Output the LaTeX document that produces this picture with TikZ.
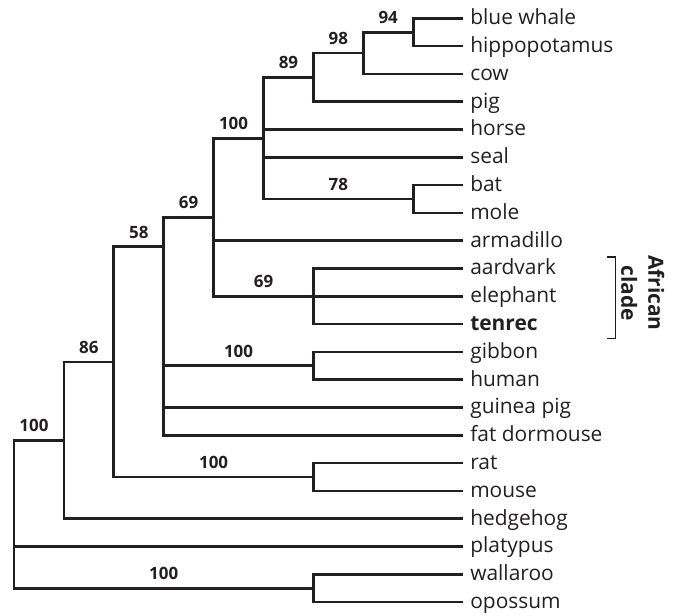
\documentclass[tikz,border=0pt]{standalone}
\usepackage{fontspec}
\setmainfont{Open Sans}
\usepackage{tikz}
\usetikzlibrary{calc,positioning}
\definecolor{tink}{RGB}{35,31,32}

\begin{document}
\begin{tikzpicture}[
  x=49.9bp,y=-27.8bp,
  every node/.style={text=tink},
  branch/.style={draw=tink,line width=2.7bp},
  taxon/.style={anchor=west,inner xsep=7bp,inner ysep=0pt,text height=16bp,text depth=3bp,
    font=\fontsize{21}{25}\selectfont},
  boot/.style={pos=.75,above=7bp,inner sep=0pt,font=\fontsize{17}{20}\selectfont\bfseries},
  clade/.style={rotate=-90,align=center,inner sep=0pt,font=\fontsize{21}{27}\selectfont\bfseries}]

\useasboundingbox (-0.2806,-0.6583) rectangle (13.267,21.5);

% taxa
\node[taxon] (bwhale) at (9,0) {blue whale};
\node[taxon] (hippo) at (9,1) {hippopotamus};
\node[taxon] (cow) at (9,2) {cow};
\node[taxon] (pig) at (9,3) {pig};
\node[taxon] (horse) at (9,4) {horse};
\node[taxon] (seal) at (9,5) {seal};
\node[taxon] (bat) at (9,6) {bat};
\node[taxon] (mole) at (9,7) {mole};
\node[taxon] (armad) at (9,8) {armadillo};
\node[taxon] (aard) at (9,9) {aardvark};
\node[taxon] (eleph) at (9,10) {elephant};
\node[taxon,font=\fontsize{21}{25}\selectfont\bfseries] (tenrec) at (9,11) {tenrec};
\node[taxon] (gibbon) at (9,12) {gibbon};
\node[taxon] (human) at (9,13) {human};
\node[taxon] (gpig) at (9,14) {guinea pig};
\node[taxon] (dorm) at (9,15) {fat dormouse};
\node[taxon] (rat) at (9,16) {rat};
\node[taxon] (mouse) at (9,17) {mouse};
\node[taxon] (hedge) at (9,18) {hedgehog};
\node[taxon] (platy) at (9,19) {platypus};
\node[taxon] (walla) at (9,20) {wallaroo};
\node[taxon] (oposs) at (9,21) {opossum};

% internal nodes
\coordinate (root) at (0,17.84);
\coordinate (nmam) at (1,15.18);
\coordinate (n86) at (2,12.36);
\coordinate (n58) at (3,8.22);
\coordinate (nout) at (4,7.156);
\coordinate (nup) at (5,4.3125);
\coordinate (n89) at (6,2.125);
\coordinate (n98) at (7,1.25);
\coordinate (n94) at (8,0.5);
\coordinate (n78) at (8,6.5);
\coordinate (nafr) at (6,10);
\coordinate (ngib) at (6,12.5);
\coordinate (nrod) at (6,16.5);
\coordinate (nmar) at (6,20.5);

% branches
\draw[branch] (root) |- node[boot,xshift=-5bp]{100} (nmam);
\draw[branch] (root) |- (platy.west);
\draw[branch] (root) |- node[boot]{100} (nmar);
\draw[branch] (nmar) |- (walla.west);
\draw[branch] (nmar) |- (oposs.west);

\draw[branch] (nmam) |- node[boot]{86} (n86);
\draw[branch] (nmam) |- (hedge.west);
\draw[branch] (n86) |- node[boot]{58} (n58);
\draw[branch] (n86) |- node[boot]{100} (nrod);
\draw[branch] (nrod) |- (rat.west);
\draw[branch] (nrod) |- (mouse.west);

\draw[branch] (n58) |- node[boot]{69} (nout);
\draw[branch] (n58) |- node[boot]{100} (ngib);
\draw[branch] (n58) |- (gpig.west);
\draw[branch] (n58) |- (dorm.west);
\draw[branch] (ngib) |- (gibbon.west);
\draw[branch] (ngib) |- (human.west);

\draw[branch] (nout) |- node[boot,xshift=-5bp]{100} (nup);
\draw[branch] (nout) |- (armad.west);
\draw[branch] (nout) |- node[boot]{69} (nafr);
\draw[branch] (nafr) |- (aard.west);
\draw[branch] (nafr) |- (eleph.west);
\draw[branch] (nafr) |- (tenrec.west);

\draw[branch] (nup) |- node[boot]{89} (n89);
\draw[branch] (nup) |- (horse.west);
\draw[branch] (nup) |- (seal.west);
\draw[branch] (nup) |- node[boot]{78} (n78);
\draw[branch] (n78) |- (bat.west);
\draw[branch] (n78) |- (mole.west);
\draw[branch] (n89) |- node[boot]{98} (n98);
\draw[branch] (n89) |- (pig.west);
\draw[branch] (n98) |- node[boot]{94} (n94);
\draw[branch] (n98) |- (cow.west);
\draw[branch] (n94) |- (bwhale.west);
\draw[branch] (n94) |- (hippo.west);

% african clade
\draw[tink,line width=1.2bp] (11.88,8.586) -- (12.06,8.586) -- (12.06,11.53) -- (11.88,11.53);
\node[clade] (afr) at (12.6,9.88) {African\\clade};
\end{tikzpicture}
\end{document}
